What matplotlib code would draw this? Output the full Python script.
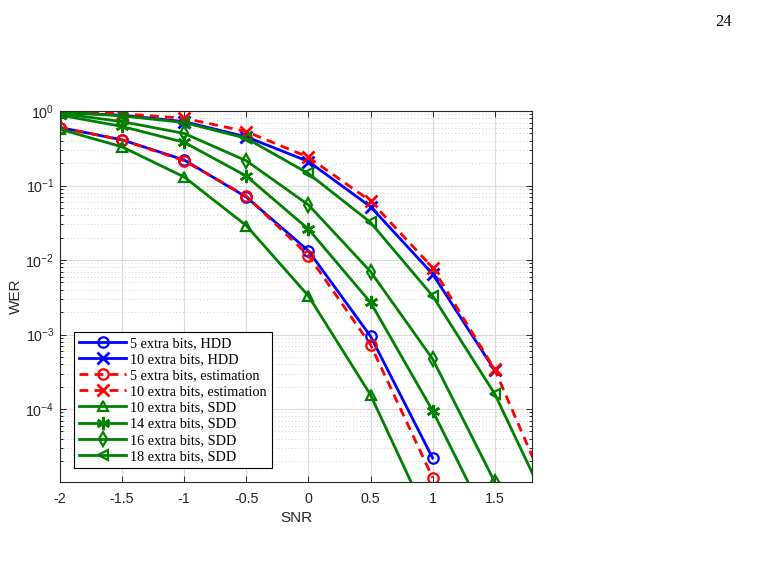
import numpy as np
import matplotlib
matplotlib.use("Agg")
import matplotlib.pyplot as plt
from matplotlib.ticker import FixedLocator, FuncFormatter, LogLocator, NullFormatter

# ---- data ----
hdd5_x = [-2, -1.5, -1, -0.5, 0, 0.5, 1]
hdd5 = [0.60, 0.41, 0.22, 0.070, 0.0133, 9.5e-4, 2.2e-5]

hdd10_x = [-2, -1.5, -1, -0.5, 0, 0.5, 1, 1.5]
hdd10 = [0.95, 0.88, 0.72, 0.45, 0.21, 0.052, 6.5e-3, 3.3e-4]

est5_x = [-2, -1.5, -1, -0.5, 0, 0.5, 1]
est5 = [0.60, 0.41, 0.215, 0.072, 0.0115, 7.3e-4, 1.2e-5]

est10_x = [-2, -1.5, -1, -0.5, 0, 0.5, 1, 1.5, 2]
est10 = [0.98, 0.92, 0.80, 0.53, 0.24, 0.062, 7.9e-3, 3.4e-4, 4.0e-6]

sdd10_x = [-2, -1.5, -1, -0.5, 0, 0.5, 1]
sdd10 = [0.57, 0.33, 0.13, 0.029, 3.3e-3, 1.55e-4, 2.5e-6]

sdd14_x = [-2, -1.5, -1, -0.5, 0, 0.5, 1, 1.5]
sdd14 = [0.88, 0.62, 0.38, 0.134, 0.026, 2.7e-3, 9.5e-5, 2.0e-6]

sdd16_x = [-2, -1.5, -1, -0.5, 0, 0.5, 1, 1.5, 2]
sdd16 = [0.93, 0.72, 0.50, 0.215, 0.055, 7.0e-3, 4.7e-4, 1.05e-5, 2.0e-7]

sdd18_x = [-2, -1.5, -1, -0.5, 0, 0.5, 1, 1.5, 2]
sdd18 = [0.97, 0.86, 0.70, 0.43, 0.145, 0.032, 3.3e-3, 1.6e-4, 2.8e-6]

labels = ["5 extra bits, HDD", "10 extra bits, HDD",
          "5 extra bits, estimation", "10 extra bits, estimation",
          "10 extra bits, SDD", "14 extra bits, SDD",
          "16 extra bits, SDD", "18 extra bits, SDD"]

x_ticks = [-2, -1.5, -1, -0.5, 0, 0.5, 1, 1.5]
x_ticklabels = ["-2", "-1.5", "-1", "-0.5", "0", "0.5", "1", "1.5"]
y_ticks = [1e-4, 1e-3, 1e-2, 1e-1, 1e0]

# ---- styling ----
plt.rcParams['font.family'] = ['Liberation Sans', 'DejaVu Sans']
plt.rcParams['mathtext.default'] = 'regular'
tick_col = '#262626'

fig = plt.figure(figsize=(7.59, 5.82), dpi=100)
ax = fig.add_axes([60/759, 1-482/582, (532-60)/759, (482-111)/582])

blue = (0, 0, 1)
red = (1, 0, 0)
green = (0, 0.5, 0)
lw = 2.0
ms = 7.5
mew = 1.6
dash = (0, (3.2, 2.2))

kw = dict(linewidth=lw, markersize=ms, markeredgewidth=mew)
kx = dict(linewidth=lw, markersize=9, markeredgewidth=2)

h1, = ax.plot(hdd5_x, hdd5, color=blue, marker='o', fillstyle='none', **kw)
h2, = ax.plot(hdd10_x, hdd10, color=blue, marker='x', **kx)
h3, = ax.plot(est5_x, est5, color=red, linestyle=dash, marker='o', fillstyle='none', **kw)
h4, = ax.plot(est10_x, est10, color=red, linestyle=dash, marker='x', **kx)
h5, = ax.plot(sdd10_x, sdd10, color=green, marker='^', fillstyle='none', **kw)
h6, = ax.plot(sdd14_x, sdd14, color=green, marker=(6, 2, 0), markersize=9.5,
              linewidth=lw, markeredgewidth=1.8)
h7, = ax.plot(sdd16_x, sdd16, color=green, marker='d', fillstyle='none', **kw)
h8, = ax.plot(sdd18_x, sdd18, color=green, marker='<', fillstyle='none', **kw)

ax.set_yscale('log')
ax.set_xlim(-2, 1.8)
ax.set_ylim(1.05e-5, 1)

ax.xaxis.set_major_locator(FixedLocator(x_ticks))
ax.set_xticklabels(x_ticklabels)
ax.yaxis.set_major_locator(FixedLocator(y_ticks))
ax.yaxis.set_major_formatter(FuncFormatter(lambda v, p: r'$10^{%d}$' % int(round(np.log10(v)))))
ax.yaxis.set_minor_locator(LogLocator(base=10, subs=np.arange(2, 10), numticks=20))
ax.yaxis.set_minor_formatter(NullFormatter())

ax.grid(True, which='major', color='#dadada', linewidth=0.8, linestyle='-')
ax.grid(True, which='minor', axis='y', color='#d2d2d2', linewidth=0.7, linestyle=(0, (1, 2.5)))
ax.set_axisbelow(True)

ax.tick_params(which='both', direction='in', top=True, right=True, colors=tick_col,
               labelsize=10.3, width=0.7)
ax.tick_params(which='major', length=4)
ax.tick_params(which='minor', length=2.5)
ax.tick_params(axis='x', which='major', pad=7)
ax.tick_params(axis='y', which='major', pad=4)
for s in ax.spines.values():
    s.set_color(tick_col)
    s.set_linewidth(0.8)

ax.set_xlabel('SNR', fontsize=11, color=tick_col, labelpad=4)
ax.set_ylabel('WER', fontsize=11, color=tick_col, labelpad=2)

leg = ax.legend([h1, h2, h3, h4, h5, h6, h7, h8], labels,
                loc='lower left', bbox_to_anchor=(0.03, 0.038), borderaxespad=0,
                prop={'family': 'Liberation Serif', 'size': 10.3},
                fancybox=False, edgecolor='black', framealpha=1,
                handlelength=3.3, handletextpad=0.25, labelspacing=0.22,
                borderpad=0.35, numpoints=1)
leg.get_frame().set_linewidth(0.8)

fig.text(724/759, 1-22/582, '24', fontsize=12, family='Liberation Serif',
         ha='center', va='center', color='black')

fig.savefig('out.png', dpi=100)
